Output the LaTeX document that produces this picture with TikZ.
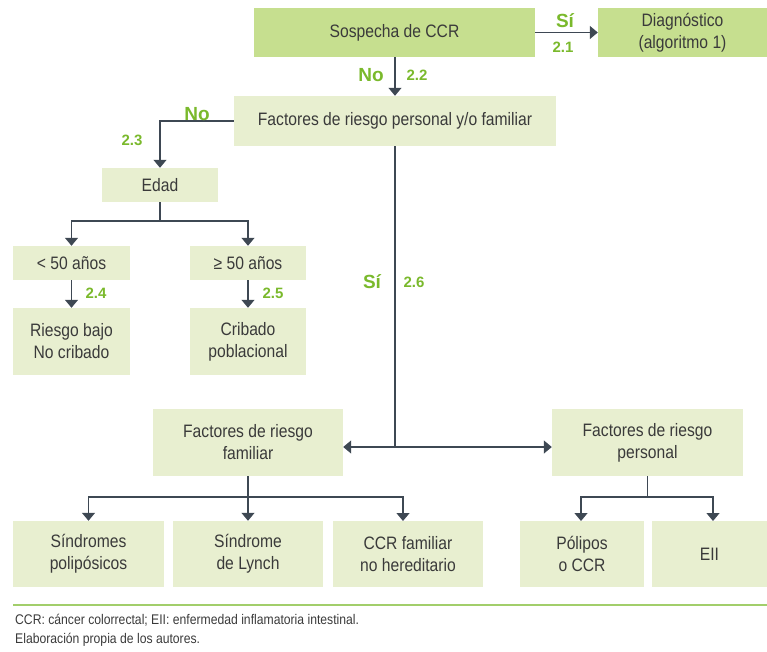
\documentclass[tikz,border=0pt]{standalone}
\usepackage{fontspec}
\setmainfont{Liberation Sans}[FakeStretch=0.87]
\newfontfamily\lblfont{Liberation Sans}
\usetikzlibrary{arrows.meta}
\definecolor{dkbox}{HTML}{C6DF8F}
\definecolor{ltbox}{HTML}{E8EFD0}
\definecolor{grn}{HTML}{7AB92C}
\definecolor{lnc}{HTML}{3E4853}
\definecolor{txt}{HTML}{3A3A3A}
\tikzset{
  box/.style={inner sep=0pt, align=center, text=txt, font=\fontsize{18}{22}\selectfont},
  dbox/.style={box, fill=dkbox},
  lbox/.style={box, fill=ltbox},
  conn/.style={draw=lnc, line width=1.3pt},
  arr/.style={conn, -{Triangle[width=13pt,length=8pt]}},
  yn/.style={text=grn, font=\lblfont\fontsize{19}{19}\selectfont\bfseries, inner sep=0pt},
  num/.style={text=grn, font=\lblfont\fontsize{15}{15}\selectfont\bfseries, inner sep=0pt},
  foot/.style={text=txt, font=\fontsize{14}{14}\selectfont, inner sep=0pt, anchor=west},
}
\begin{document}
\begin{tikzpicture}[x=1pt,y=-1pt]
\useasboundingbox (0,0) rectangle (767,652);
% boxes
\node[dbox, minimum width=281, minimum height=49] (sosp) at (394.5,32.5) {Sospecha de CCR};
\node[dbox, minimum width=169, minimum height=49] (diag) at (682.5,32.5) {Diagnóstico\\(algoritmo 1)};
\node[lbox, minimum width=322, minimum height=50] (fac) at (395,121) {Factores de riesgo personal y/o familiar};
\node[lbox, minimum width=116, minimum height=34] (edad) at (160,185) {Edad};
\node[lbox, minimum width=117, minimum height=34] (lt) at (71.5,263) {< 50 años};
\node[lbox, minimum width=116, minimum height=34] (ge) at (248,263) {≥ 50 años};
\node[lbox, minimum width=117, minimum height=67] (rb) at (71.5,341.5) {Riesgo bajo\\No cribado};
\node[lbox, minimum width=116, minimum height=67] (crib) at (248,341.5) {Cribado\\poblacional};
\node[lbox, minimum width=190, minimum height=67] (famil) at (248,442.5) {Factores de riesgo\\familiar};
\node[lbox, minimum width=191, minimum height=67] (pers) at (647.5,442.5) {Factores de riesgo\\personal};
\node[lbox, minimum width=151, minimum height=66] (sp) at (88.5,554) {Síndromes\\polipósicos};
\node[lbox, minimum width=150, minimum height=66] (ly) at (248,554) {Síndrome\\de Lynch};
\node[lbox, minimum width=150, minimum height=66] (cf) at (408,554) {CCR familiar\\no hereditario};
\node[lbox, minimum width=124, minimum height=66] (pol) at (582,554) {Pólipos\\o CCR};
\node[lbox, minimum width=115, minimum height=66] (eii) at (709.5,554) {EII};
% connectors
\draw[arr] (sosp.east) -- (diag.west);
\node[yn] (l1) at (565,21) {Sí};
\node[num] (n1) at (563,47) {2.1};
\draw[arr] (sosp.south -| fac.north) -- (fac.north);
\node[yn] (l2) at (371,75) {No};
\node[num] (n2) at (417,75) {2.2};
\draw[arr] (fac.west) -| (edad.north);
\node[yn] (l3) at (197,114) {No};
\node[num] (n3) at (132,140) {2.3};
\coordinate (e1) at (160,221);
\draw[conn] (edad.south) -- (e1);
\draw[arr] (e1) -| (lt.north);
\draw[arr] (e1) -| (ge.north);
\draw[arr] (lt.south) -- (rb.north);
\draw[arr] (ge.south) -- (crib.north);
\node[num] (n4) at (96,293) {2.4};
\node[num] (n5) at (273,293) {2.5};
\coordinate (j) at (395,447);
\draw[conn] (fac.south) -- (j);
\draw[arr] (j) -- (j -| famil.east);
\draw[arr] (j) -- (j -| pers.west);
\node[yn] (l6) at (372,282) {Sí};
\node[num] (n6) at (414,282) {2.6};
\coordinate (f1) at (248,497);
\coordinate (f2) at (403,521);
\draw[conn] (famil.south) -- (f1);
\draw[arr] (f1) -| (sp.north);
\draw[arr] (f1) -- (ly.north);
\draw[arr] (f1) -| (f2);
\coordinate (p1) at (647.5,497);
\coordinate (p2) at (581,521);
\coordinate (p3) at (713,521);
\draw[conn] (pers.south) -- (p1);
\draw[arr] (p1) -| (p2);
\draw[arr] (p1) -| (p3);
% footer
\coordinate (g1) at (13,605);
\coordinate (g2) at (767,605);
\draw[draw=grn!70, line width=1.2pt] (g1) -- (g2);
\node[foot] (ft1) at (15,620) {CCR: cáncer colorrectal; EII: enfermedad inflamatoria intestinal.};
\node[foot] (ft2) at (15,640) {Elaboración propia de los autores.};
\end{tikzpicture}
\end{document}
